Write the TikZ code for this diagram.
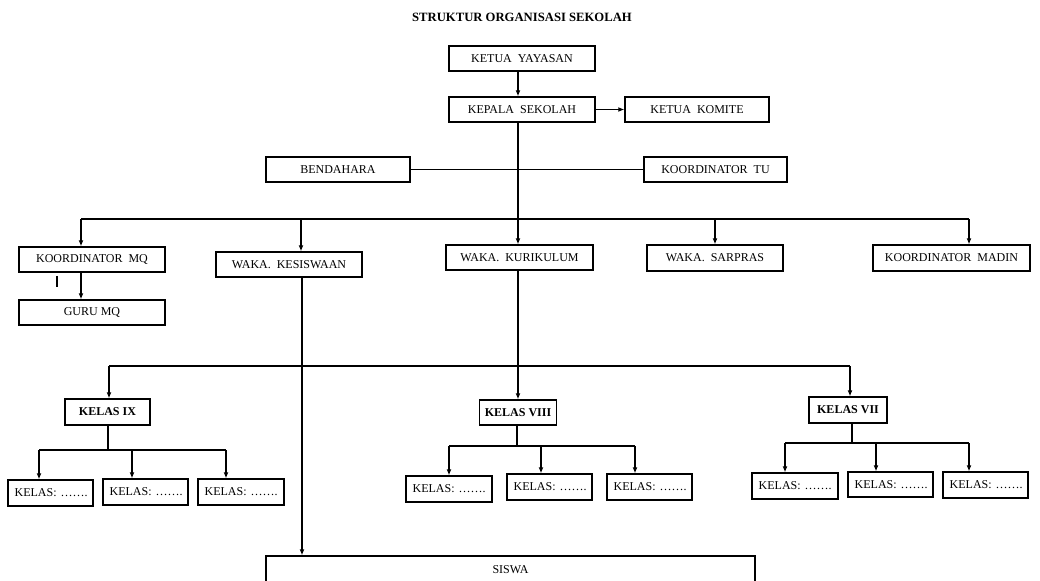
\documentclass[tikz,border=0pt]{standalone}
\usepackage{fontspec}
\setmainfont{Liberation Serif}
\usetikzlibrary{arrows.meta}
\tikzset{
  bx/.style 2 args={draw, line width=0.95pt, minimum width=#1*0.75pt, minimum height=#2*0.75pt, inner sep=0pt, font=\fontsize{9pt}{10pt}\selectfont},
  kb/.style 2 args={draw, line width=0.95pt, minimum height=#2*0.75pt, text width=#1*0.75pt-10pt, inner xsep=5pt, inner ysep=0pt, align=left, font=\fontsize{9pt}{10pt}\selectfont},
  ln/.style={line width=0.8pt},
  arr/.style={line width=0.8pt, -{Latex[length=4.5pt,width=3.6pt]}},
}
\begin{document}
\begin{tikzpicture}[x=0.75pt,y=-0.75pt]
\useasboundingbox (0,0) rectangle (1040,581);
\node[font=\fontsize{9.5pt}{10pt}\selectfont\bfseries] (title) at (522,17) {STRUKTUR ORGANISASI SEKOLAH};
\node[bx={146}{25}] (ky) at (522,58.5) {KETUA\ \ YAYASAN};
\node[bx={146}{25}] (ks) at (522,109.5) {KEPALA\ \ SEKOLAH};
\node[bx={144}{25}] (kk) at (697,109.5) {KETUA\ \ KOMITE};
\node[bx={144}{25}] (bend) at (338,169.5) {BENDAHARA};
\node[bx={143}{25}] (ktu) at (715.5,169.5) {KOORDINATOR\ \ TU};
\node[bx={146}{25}] (kmq) at (92,259.5) {KOORDINATOR\ \ MQ};
\node[bx={146}{25}] (wks) at (289,264.5) {WAKA.\ \ KESISWAAN};
\node[bx={147}{25}] (wkk) at (519.5,257.5) {WAKA.\ \ KURIKULUM};
\node[bx={136}{26}] (wsp) at (715,258) {WAKA.\ \ SARPRAS};
\node[bx={157}{26}] (kmd) at (951.5,258) {KOORDINATOR\ \ MADIN};
\node[bx={146}{25}] (gmq) at (92,312.5) {GURU MQ};
\node[bx={85}{26}, font=\fontsize{9pt}{10pt}\selectfont\bfseries] (k9) at (107.5,412) {KELAS IX};
\node[bx={77}{25}, font=\fontsize{9pt}{10pt}\selectfont\bfseries] (k8) at (518,412.5) {KELAS VIII};
\node[bx={78}{26}, font=\fontsize{9pt}{10pt}\selectfont\bfseries] (k7) at (848,410) {KELAS VII};
\node[kb={85}{26}] (c91) at (50.5,493) {KELAS:~…….};
\node[kb={85}{26}] (c92) at (145.5,492) {KELAS:~…….};
\node[kb={86}{26}] (c93) at (241,492) {KELAS:~…….};
\node[kb={86}{26}] (c81) at (449,489) {KELAS:~…….};
\node[kb={85}{26}] (c82) at (549.5,487) {KELAS:~…….};
\node[kb={85}{26}] (c83) at (649.5,487) {KELAS:~…….};
\node[kb={86}{26}] (c71) at (795,486) {KELAS:~…….};
\node[kb={85}{25}] (c72) at (890.5,484.5) {KELAS:~…….};
\node[kb={85}{26}] (c73) at (985.5,485) {KELAS:~…….};
\node[bx={489}{27}] (siswa) at (510.5,569.5) {SISWA};
% columns
\coordinate (sp) at (518,0);
\coordinate (bA) at (81,219);
\coordinate (bB) at (301,219);
\coordinate (bC) at (518,219);
\coordinate (bD) at (715,219);
\coordinate (bE) at (969,219);
\coordinate (ws) at (302,0);
\coordinate (m9) at (109,366);
\coordinate (m7) at (850,366);
\coordinate (t1) at (57,276);
\coordinate (t2) at (57,287);
% top
\draw[arr] (ky.south -| sp) -- (ks.north -| sp);
\draw[arr] (ks.east) -- (kk.west);
\draw[ln] (bend.east) -- (ktu.west);
\draw[arr] (ks.south -| sp) -- (wkk.north -| sp);
\draw[ln] (bA) -- (bE);
\draw[arr] (bA) -- (bA |- kmq.north);
\draw[arr] (bB) -- (bB |- wks.north);
\draw[arr] (bD) -- (bD |- wsp.north);
\draw[arr] (bE) -- (bE |- kmd.north);
\draw[arr] (kmq.south -| bA) -- (gmq.north -| bA);
\draw[line width=1.6pt] (t1) -- (t2);
\draw[arr] (wks.south -| ws) -- (siswa.north -| ws);
% second level
\draw[arr] (wkk.south -| sp) -- (k8.north -| sp);
\draw[ln] (m9) -- (m7);
\draw[arr] (m9) -- (m9 |- k9.north);
\draw[arr] (m7) -- (m7 |- k7.north);
% kelas IX
\coordinate (s9) at (108,450);
\coordinate (a91) at (39,450);
\coordinate (a92) at (132,450);
\coordinate (a93) at (226,450);
\draw[ln] (k9.south -| s9) -- (s9);
\draw[ln] (a91) -- (a93);
\draw[arr] (a91) -- (a91 |- c91.north);
\draw[arr] (a92) -- (a92 |- c92.north);
\draw[arr] (a93) -- (a93 |- c93.north);
% kelas VIII
\coordinate (s8) at (517,446);
\coordinate (a81) at (449,446);
\coordinate (a82) at (541,446);
\coordinate (a83) at (635,446);
\draw[ln] (k8.south -| s8) -- (s8);
\draw[ln] (a81) -- (a83);
\draw[arr] (a81) -- (a81 |- c81.north);
\draw[arr] (a82) -- (a82 |- c82.north);
\draw[arr] (a83) -- (a83 |- c83.north);
% kelas VII
\coordinate (s7) at (852,443);
\coordinate (a71) at (785,443);
\coordinate (a72) at (876,443);
\coordinate (a73) at (969,443);
\draw[ln] (k7.south -| s7) -- (s7);
\draw[ln] (a71) -- (a73);
\draw[arr] (a71) -- (a71 |- c71.north);
\draw[arr] (a72) -- (a72 |- c72.north);
\draw[arr] (a73) -- (a73 |- c73.north);
\end{tikzpicture}
\end{document}
